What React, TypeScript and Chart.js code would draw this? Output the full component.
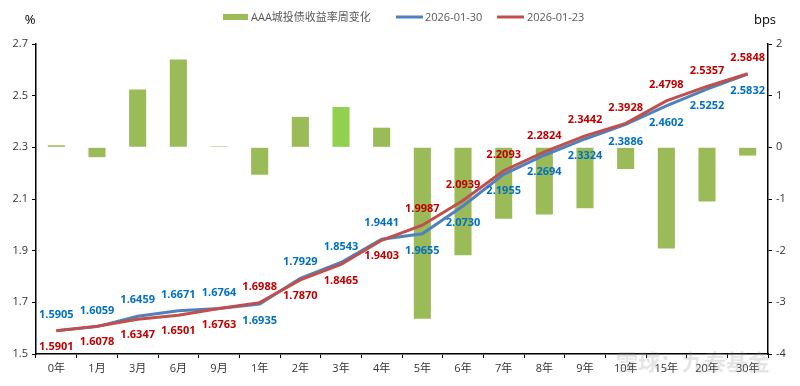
import React, { useEffect, useRef } from "react";
import { Chart, registerables } from "chart.js";

Chart.register(...registerables);

const categories = ["0年", "1月", "3月", "6月", "9月", "1年", "2年", "3年", "4年", "5年", "6年", "7年", "8年", "9年", "10年", "15年", "20年", "30年"];
const yield0130 = [1.5905, 1.6059, 1.6459, 1.6671, 1.6764, 1.6935, 1.7929, 1.8543, 1.9441, 1.9655, 2.073, 2.1955, 2.2694, 2.3324, 2.3886, 2.4602, 2.5252, 2.5832];
const yield0123 = [1.5901, 1.6078, 1.6347, 1.6501, 1.6763, 1.6988, 1.787, 1.8465, 1.9403, 1.9987, 2.0939, 2.2093, 2.2824, 2.3442, 2.3928, 2.4798, 2.5357, 2.5848];
const weeklyChangeBp = [0.04, -0.19, 1.12, 1.7, 0.01, -0.53, 0.59, 0.78, 0.38, -3.32, -2.09, -1.38, -1.3, -1.18, -0.42, -1.96, -1.05, -0.16];
const leftTicks = [1.5, 1.7, 1.9, 2.1, 2.3, 2.5, 2.7];
const rightTicks = [-4, -3, -2, -1, 0, 1, 2];

const seriesNames = ["AAA城投债收益率周变化", "2026-01-30", "2026-01-23"];
const highlightCategory = "3年";

const GREEN = "#9BBB59";
const GREEN_HL = "#92D050";
const BLUE = "#4F81BD";
const RED = "#C0504D";
const BLUE_TXT = "#0070C0";
const RED_TXT = "#C00000";
const FONT = '"Open Sans", "Noto Sans CJK SC", sans-serif';

const labelsPlugin = {
  id: "pointLabels",
  afterDatasetsDraw(chart: any) {
    const ctx = chart.ctx;
    ctx.save();
    ctx.font = `bold 11px ${FONT}`;
    ctx.textAlign = "center";
    ctx.textBaseline = "middle";
    const blueMeta = chart.getDatasetMeta(1);
    const redMeta = chart.getDatasetMeta(2);
    categories.forEach((c, i) => {
      const blueAbove = yield0130[i] >= yield0123[i] || c === "1月";
      const bp = blueMeta.data[i];
      const rp = redMeta.data[i];
      ctx.fillStyle = BLUE_TXT;
      ctx.fillText(yield0130[i].toFixed(4), bp.x, bp.y + (blueAbove ? -16 : 17));
      ctx.fillStyle = RED_TXT;
      ctx.fillText(yield0123[i].toFixed(4), rp.x, rp.y + (blueAbove ? 16 : -16));
    });
    ctx.restore();
  },
  afterDraw(chart: any) {
    const ctx = chart.ctx;
    ctx.save();
    // axis unit labels
    ctx.fillStyle = "#000";
    ctx.font = `13px ${FONT}`;
    ctx.textAlign = "center";
    ctx.textBaseline = "middle";
    ctx.fillText("%", 30, 20);
    ctx.fillText("bps", 765, 20);
    // legend
    ctx.font = `11px ${FONT}`;
    ctx.textAlign = "left";
    const ly = 17;
    ctx.fillStyle = GREEN;
    ctx.fillRect(223, ly - 3, 25, 6);
    ctx.fillStyle = "#595959";
    ctx.fillText(seriesNames[0], 251, ly + 1);
    ctx.strokeStyle = BLUE;
    ctx.lineWidth = 3;
    ctx.beginPath();
    ctx.moveTo(396, ly);
    ctx.lineTo(423, ly);
    ctx.stroke();
    ctx.fillText(seriesNames[1], 425, ly + 1);
    ctx.strokeStyle = RED;
    ctx.beginPath();
    ctx.moveTo(497, ly);
    ctx.lineTo(524, ly);
    ctx.stroke();
    ctx.fillText(seriesNames[2], 527, ly + 1);
    // watermark
    ctx.globalAlpha = 0.22;
    ctx.fillStyle = "#888";
    ctx.font = `bold 22px "Noto Sans CJK SC", sans-serif`;
    ctx.fillText("雪球：九泰基金", 616, 362);
    ctx.restore();
  },
};

export default function App() {
  const ref = useRef<HTMLCanvasElement | null>(null);
  useEffect(() => {
    document.body.style.margin = "0";
    const canvas = ref.current;
    if (!canvas) return;
    const chart = new Chart(canvas, {
      type: "bar",
      data: {
        labels: categories,
        datasets: [
          {
            type: "bar",
            label: seriesNames[0],
            data: weeklyChangeBp,
            yAxisID: "y1",
            backgroundColor: categories.map((c) => (c === highlightCategory ? GREEN_HL : GREEN)),
            barPercentage: 0.42,
            categoryPercentage: 1,
            minBarLength: 1,
            order: 3,
          },
          {
            type: "line",
            label: seriesNames[1],
            data: yield0130,
            yAxisID: "y",
            borderColor: BLUE,
            backgroundColor: BLUE,
            borderWidth: 3,
            pointRadius: 0,
            tension: 0,
            order: 2,
          },
          {
            type: "line",
            label: seriesNames[2],
            data: yield0123,
            yAxisID: "y",
            borderColor: RED,
            backgroundColor: RED,
            borderWidth: 3,
            pointRadius: 0,
            tension: 0,
            order: 1,
          },
        ] as any,
      },
      options: {
        animation: false,
        responsive: true,
        maintainAspectRatio: false,
        layout: { padding: { top: 44, left: 0, right: 0, bottom: 0 } },
        plugins: { legend: { display: false }, tooltip: { enabled: false } },
        scales: {
          x: {
            offset: true,
            grid: { display: true, drawOnChartArea: false, offset: true, tickLength: 4, color: "#000", lineWidth: 1 },
            border: { display: true, color: "#000", width: 1.5 },
            ticks: { color: "#333", font: { family: FONT, size: 11 }, padding: 4, maxRotation: 0, autoSkip: false },
            afterFit: (s: any) => {
              s.height = 32;
            },
          },
          y: {
            position: "left",
            min: leftTicks[0],
            max: leftTicks[leftTicks.length - 1],
            afterBuildTicks: (s: any) => {
              s.ticks = leftTicks.map((v) => ({ value: v }));
            },
            grid: { display: true, drawOnChartArea: false, tickLength: 4, color: "#000" },
            border: { display: true, color: "#000", width: 1.5 },
            ticks: { color: "#333", font: { family: FONT, size: 11 }, padding: 4, callback: (v: any) => Number(v).toFixed(1) },
            afterFit: (s: any) => {
              s.width = 36;
            },
          },
          y1: {
            position: "right",
            min: rightTicks[0],
            max: rightTicks[rightTicks.length - 1],
            afterBuildTicks: (s: any) => {
              s.ticks = rightTicks.map((v) => ({ value: v }));
            },
            grid: { display: true, drawOnChartArea: false, tickLength: 4, color: "#000" },
            border: { display: true, color: "#000", width: 1.5 },
            ticks: { color: "#333", font: { family: FONT, size: 11 }, padding: 4, callback: (v: any) => String(v) },
            afterFit: (s: any) => {
              s.width = 32;
            },
          },
        },
      } as any,
      plugins: [labelsPlugin],
    });
    return () => chart.destroy();
  }, []);
  return (
    <div style={{ width: 800, height: 386, position: "relative", background: "#fff" }}>
      <canvas ref={ref} />
    </div>
  );
}
